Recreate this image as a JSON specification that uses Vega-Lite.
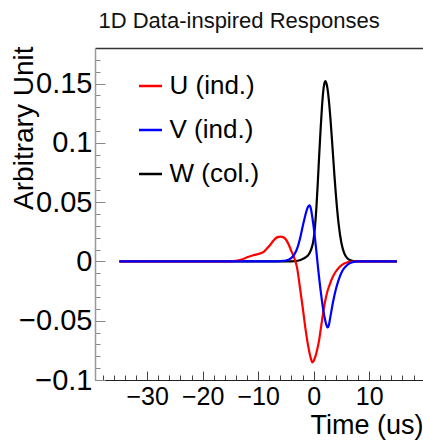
{
  "$schema": "https://vega.github.io/schema/vega-lite/v6.json",
  "width": 328,
  "height": 332,
  "autosize": {"type": "none"},
  "padding": {"left": 95, "top": 48, "right": 0, "bottom": 67},
  "background": "white",
  "config": {
    "view": {"stroke": null},
    "font": "Liberation Sans"
  },
  "data": {
    "values": [
      {"s": "W (col.)", "t": -35, "v": 0},
      {"s": "W (col.)", "t": -5, "v": 0},
      {"s": "W (col.)", "t": -4, "v": 0.0001},
      {"s": "W (col.)", "t": -3, "v": 0.0005},
      {"s": "W (col.)", "t": -2.5, "v": 0.001},
      {"s": "W (col.)", "t": -2, "v": 0.002},
      {"s": "W (col.)", "t": -1.5, "v": 0.0033},
      {"s": "W (col.)", "t": -1, "v": 0.0052},
      {"s": "W (col.)", "t": -0.5, "v": 0.0095},
      {"s": "W (col.)", "t": 0, "v": 0.019},
      {"s": "W (col.)", "t": 0.25, "v": 0.03},
      {"s": "W (col.)", "t": 0.5, "v": 0.046},
      {"s": "W (col.)", "t": 0.75, "v": 0.067},
      {"s": "W (col.)", "t": 1, "v": 0.09},
      {"s": "W (col.)", "t": 1.25, "v": 0.1115},
      {"s": "W (col.)", "t": 1.5, "v": 0.1305},
      {"s": "W (col.)", "t": 1.75, "v": 0.1445},
      {"s": "W (col.)", "t": 2, "v": 0.1512},
      {"s": "W (col.)", "t": 2.1, "v": 0.152},
      {"s": "W (col.)", "t": 2.25, "v": 0.151},
      {"s": "W (col.)", "t": 2.5, "v": 0.1455},
      {"s": "W (col.)", "t": 2.75, "v": 0.1353},
      {"s": "W (col.)", "t": 3, "v": 0.1217},
      {"s": "W (col.)", "t": 3.25, "v": 0.1057},
      {"s": "W (col.)", "t": 3.5, "v": 0.0888},
      {"s": "W (col.)", "t": 3.75, "v": 0.072},
      {"s": "W (col.)", "t": 4, "v": 0.0565},
      {"s": "W (col.)", "t": 4.5, "v": 0.0315},
      {"s": "W (col.)", "t": 5, "v": 0.0155},
      {"s": "W (col.)", "t": 5.5, "v": 0.007},
      {"s": "W (col.)", "t": 6, "v": 0.003},
      {"s": "W (col.)", "t": 6.5, "v": 0.0012},
      {"s": "W (col.)", "t": 7, "v": 0.0005},
      {"s": "W (col.)", "t": 7.5, "v": 0.0002},
      {"s": "W (col.)", "t": 8, "v": 0},
      {"s": "W (col.)", "t": 15, "v": 0},
      {"s": "U (ind.)", "t": -35, "v": 0},
      {"s": "U (ind.)", "t": -16, "v": 0},
      {"s": "U (ind.)", "t": -15, "v": 0.0001},
      {"s": "U (ind.)", "t": -14, "v": 0.0004},
      {"s": "U (ind.)", "t": -13, "v": 0.0015},
      {"s": "U (ind.)", "t": -12, "v": 0.0035},
      {"s": "U (ind.)", "t": -11, "v": 0.005},
      {"s": "U (ind.)", "t": -10, "v": 0.0062},
      {"s": "U (ind.)", "t": -9, "v": 0.008},
      {"s": "U (ind.)", "t": -8.5, "v": 0.0105},
      {"s": "U (ind.)", "t": -8, "v": 0.013},
      {"s": "U (ind.)", "t": -7.5, "v": 0.016},
      {"s": "U (ind.)", "t": -7, "v": 0.0188},
      {"s": "U (ind.)", "t": -6.5, "v": 0.0205},
      {"s": "U (ind.)", "t": -6, "v": 0.021},
      {"s": "U (ind.)", "t": -5.5, "v": 0.0205},
      {"s": "U (ind.)", "t": -5, "v": 0.0185},
      {"s": "U (ind.)", "t": -4.5, "v": 0.0142},
      {"s": "U (ind.)", "t": -4, "v": 0.0085},
      {"s": "U (ind.)", "t": -3.5, "v": 0.003},
      {"s": "U (ind.)", "t": -3, "v": -0.005},
      {"s": "U (ind.)", "t": -2.5, "v": -0.021},
      {"s": "U (ind.)", "t": -2, "v": -0.038},
      {"s": "U (ind.)", "t": -1.5, "v": -0.056},
      {"s": "U (ind.)", "t": -1, "v": -0.071},
      {"s": "U (ind.)", "t": -0.5, "v": -0.082},
      {"s": "U (ind.)", "t": -0.25, "v": -0.0852},
      {"s": "U (ind.)", "t": 0, "v": -0.084},
      {"s": "U (ind.)", "t": 0.25, "v": -0.081},
      {"s": "U (ind.)", "t": 0.5, "v": -0.077},
      {"s": "U (ind.)", "t": 0.75, "v": -0.072},
      {"s": "U (ind.)", "t": 1, "v": -0.066},
      {"s": "U (ind.)", "t": 1.25, "v": -0.058},
      {"s": "U (ind.)", "t": 1.5, "v": -0.05},
      {"s": "U (ind.)", "t": 1.75, "v": -0.042},
      {"s": "U (ind.)", "t": 2, "v": -0.035},
      {"s": "U (ind.)", "t": 2.5, "v": -0.025},
      {"s": "U (ind.)", "t": 3, "v": -0.018},
      {"s": "U (ind.)", "t": 3.5, "v": -0.0125},
      {"s": "U (ind.)", "t": 4, "v": -0.0085},
      {"s": "U (ind.)", "t": 4.5, "v": -0.0055},
      {"s": "U (ind.)", "t": 5, "v": -0.0033},
      {"s": "U (ind.)", "t": 5.5, "v": -0.0018},
      {"s": "U (ind.)", "t": 6, "v": -0.0009},
      {"s": "U (ind.)", "t": 6.5, "v": -0.0004},
      {"s": "U (ind.)", "t": 7, "v": -0.0001},
      {"s": "U (ind.)", "t": 8, "v": 0},
      {"s": "U (ind.)", "t": 15, "v": 0},
      {"s": "V (ind.)", "t": -35, "v": 0},
      {"s": "V (ind.)", "t": -7, "v": 0},
      {"s": "V (ind.)", "t": -6, "v": 0.0002},
      {"s": "V (ind.)", "t": -5.5, "v": 0.0004},
      {"s": "V (ind.)", "t": -5, "v": 0.0008},
      {"s": "V (ind.)", "t": -4.5, "v": 0.0015},
      {"s": "V (ind.)", "t": -4, "v": 0.003},
      {"s": "V (ind.)", "t": -3.5, "v": 0.0058},
      {"s": "V (ind.)", "t": -3, "v": 0.0105},
      {"s": "V (ind.)", "t": -2.5, "v": 0.0185},
      {"s": "V (ind.)", "t": -2, "v": 0.029},
      {"s": "V (ind.)", "t": -1.5, "v": 0.039},
      {"s": "V (ind.)", "t": -1, "v": 0.0462},
      {"s": "V (ind.)", "t": -0.75, "v": 0.0472},
      {"s": "V (ind.)", "t": -0.5, "v": 0.0445},
      {"s": "V (ind.)", "t": -0.25, "v": 0.0375},
      {"s": "V (ind.)", "t": 0, "v": 0.029},
      {"s": "V (ind.)", "t": 0.25, "v": 0.019},
      {"s": "V (ind.)", "t": 0.5, "v": 0.008},
      {"s": "V (ind.)", "t": 0.75, "v": -0.0035},
      {"s": "V (ind.)", "t": 1, "v": -0.0145},
      {"s": "V (ind.)", "t": 1.25, "v": -0.0245},
      {"s": "V (ind.)", "t": 1.5, "v": -0.0335},
      {"s": "V (ind.)", "t": 1.75, "v": -0.0415},
      {"s": "V (ind.)", "t": 2, "v": -0.048},
      {"s": "V (ind.)", "t": 2.25, "v": -0.053},
      {"s": "V (ind.)", "t": 2.5, "v": -0.0557},
      {"s": "V (ind.)", "t": 2.75, "v": -0.0535},
      {"s": "V (ind.)", "t": 3, "v": -0.047},
      {"s": "V (ind.)", "t": 3.5, "v": -0.034},
      {"s": "V (ind.)", "t": 4, "v": -0.0235},
      {"s": "V (ind.)", "t": 4.5, "v": -0.0155},
      {"s": "V (ind.)", "t": 5, "v": -0.0095},
      {"s": "V (ind.)", "t": 5.5, "v": -0.0057},
      {"s": "V (ind.)", "t": 6, "v": -0.0032},
      {"s": "V (ind.)", "t": 6.5, "v": -0.0016},
      {"s": "V (ind.)", "t": 7, "v": -0.0007},
      {"s": "V (ind.)", "t": 7.5, "v": -0.0002},
      {"s": "V (ind.)", "t": 8, "v": 0},
      {"s": "V (ind.)", "t": 15, "v": 0}
    ]
  },
  "encoding": {
    "y": {
      "field": "v",
      "type": "quantitative",
      "scale": {"domain": [-0.1, 0.18], "nice": false, "zero": false},
      "axis": {
        "title": "Arbitrary Unit",
        "titleFont": "Liberation Sans",
        "titleFontSize": 28,
        "titleFontWeight": "normal",
        "titleColor": "#000",
        "titleAngle": 270,
        "titleAlign": "right",
        "titleBaseline": "alphabetic",
        "titleX": -63,
        "titleY": -2,
        "values": [-0.1, -0.09, -0.08, -0.07, -0.06, -0.05, -0.04, -0.03, -0.02, -0.01, 0, 0.01, 0.02, 0.03, 0.04, 0.05, 0.06, 0.07, 0.08, 0.09, 0.1, 0.11, 0.12, 0.13, 0.14, 0.15, 0.16, 0.17],
        "labelExpr": "abs(round(datum.value*100)) % 5 == 0 ? format(datum.value, '~g') : ''",
        "labelFont": "Liberation Sans",
        "labelFontSize": 29,
        "labelColor": "#000",
        "labelOverlap": false,
        "labelFlush": false,
        "labelBaseline": "middle",
        "labelPadding": 13,
        "tickSize": {"condition": {"test": "abs(round(datum.value*100)) % 5 == 0", "value": -10}, "value": -5},
        "tickColor": "#888",
        "tickWidth": 1,
        "domainColor": "#999",
        "domainWidth": 1.5,
        "grid": false
      }
    }
  },
  "layer": [
    {
      "mark": {"type": "line", "strokeWidth": 2.2, "interpolate": "monotone"},
      "encoding": {
        "x": {
          "field": "t",
          "type": "quantitative",
          "scale": {"domain": [-39.4, 19.7], "nice": false, "zero": false},
          "axis": {
            "orient": "bottom",
            "title": "Time (us)",
            "titleFont": "Liberation Sans",
            "titleFontSize": 27,
            "titleFontWeight": "normal",
            "titleColor": "#000",
            "titleAnchor": "end",
            "titleAlign": "right",
            "titleBaseline": "alphabetic",
            "titleX": 328,
            "titleY": 53,
            "values": [-38, -36, -34, -32, -30, -28, -26, -24, -22, -20, -18, -16, -14, -12, -10, -8, -6, -4, -2, 0, 2, 4, 6, 8, 10, 12, 14, 16, 18],
            "labelExpr": "datum.value % 10 == 0 ? format(datum.value, 'd') : ''",
            "labelFont": "Liberation Sans",
            "labelFontSize": 25,
            "labelColor": "#000",
            "labelOverlap": false,
            "labelFlush": false,
            "labelBaseline": "top",
            "labelPadding": 13,
            "tickSize": {"condition": {"test": "datum.value % 10 == 0", "value": -9}, "value": -5},
            "tickColor": "#444",
            "tickWidth": 1,
            "domainColor": "#222",
            "domainWidth": 1.2,
            "grid": false
          }
        },
        "color": {
          "field": "s",
          "type": "nominal",
          "scale": {"domain": ["U (ind.)", "V (ind.)", "W (col.)"], "range": ["#ff0000", "#0000ff", "#000000"]},
          "legend": {
            "title": null,
            "orient": "none",
            "legendX": 42.5,
            "legendY": 25,
            "padding": 0,
            "symbolType": "stroke",
            "symbolSize": 529,
            "symbolStrokeWidth": 2.5,
            "labelFont": "Liberation Sans",
            "labelFontSize": 26,
            "labelColor": "#000",
            "labelOffset": 6,
            "rowPadding": 18,
            "labelLimit": 300
          }
        }
      }
    },
    {
      "mark": {"type": "line", "opacity": 0},
      "encoding": {
        "x": {
          "field": "t",
          "type": "quantitative",
          "axis": {
            "orient": "top",
            "title": "1D Data-inspired Responses",
            "titleFont": "Liberation Sans",
            "titleFontSize": 22,
            "titleFontWeight": "normal",
            "titleColor": "#111",
            "titleAlign": "center",
            "titleBaseline": "alphabetic",
            "titleAngle": 0,
            "titleX": 143.6,
            "titleY": -21,
            "labels": false,
            "ticks": false,
            "domainColor": "#333",
            "domainWidth": 1.5,
            "grid": false
          }
        }
      }
    }
  ],
  "resolve": {"axis": {"x": "independent"}}
}
